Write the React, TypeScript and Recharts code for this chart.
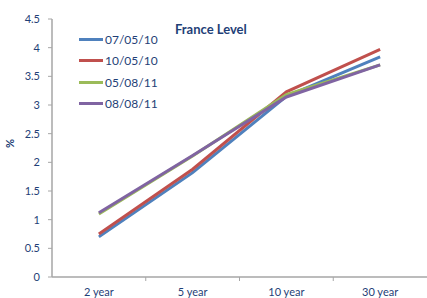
import React from 'react';
import { LineChart, Line, XAxis, YAxis } from 'recharts';

const tenors = ['2 year', '5 year', '10 year', '30 year'];
const may0710 = [0.7, 1.82, 3.15, 3.84];
const may1010 = [0.75, 1.88, 3.23, 3.97];
const aug0511 = [1.1, 2.11, 3.18, 3.7];
const aug0811 = [1.12, 2.12, 3.14, 3.7];
const yTicks = [0, 0.5, 1, 1.5, 2, 2.5, 3, 3.5, 4, 4.5];

const series = [
  { key: 'a', name: '07/05/10', values: may0710, color: '#4F81BD' },
  { key: 'b', name: '10/05/10', values: may1010, color: '#C0504D' },
  { key: 'c', name: '05/08/11', values: aug0511, color: '#9BBB59' },
  { key: 'd', name: '08/08/11', values: aug0811, color: '#8064A2' },
];

const data = tenors.map((t, i) => {
  const row: Record<string, string | number> = { tenor: t };
  series.forEach((s) => { row[s.key] = s.values[i]; });
  return row;
});

const W = 427;
const H = 298;
const LEFT = 52;
const STEP = (W - LEFT) / tenors.length;
const TEXT = '#1F3F77';
const AXIS = '#A6A6A6';
const FONT = 'Lato, "Liberation Sans", sans-serif';

function XTick(props: any) {
  const { x, payload, index } = props;
  return (
    <g>
      {index < tenors.length - 1 && (
        <line x1={x + STEP / 2} x2={x + STEP / 2} y1={277} y2={281} stroke={AXIS} />
      )}
      <text x={x} y={296} textAnchor="middle" fill={TEXT} fontSize={11} fontFamily={FONT}>
        {payload.value}
      </text>
    </g>
  );
}

export default function App() {
  return (
    <div style={{ position: 'absolute', left: 0, top: 0, width: W, height: H, background: '#fff' }}>
      <div style={{ position: 'absolute', left: 175, top: 21, color: TEXT, fontFamily: FONT, fontWeight: 'bold', fontSize: 13 }}>
        France Level
      </div>
      <div style={{ position: 'absolute', left: 79, top: 29, zIndex: 2 }}>
        {series.map((s) => (
          <div key={s.key} style={{ display: 'flex', alignItems: 'center', height: 21.3 }}>
            <div style={{ width: 24, height: 3, background: s.color, marginRight: 2 }} />
            <span style={{ color: TEXT, fontSize: 12, fontFamily: FONT }}>{s.name}</span>
          </div>
        ))}
      </div>
      <LineChart width={W} height={H} data={data} margin={{ top: 19, right: 0, bottom: 0, left: 0 }}>
        <XAxis
          dataKey="tenor"
          height={21}
          padding={{ left: STEP / 2, right: STEP / 2 }}
          axisLine={{ stroke: AXIS, strokeWidth: 1.5 }}
          tickLine={false}
          tick={<XTick />}
          interval={0}
        />
        <YAxis
          width={LEFT}
          domain={[0, 4.5]}
          ticks={yTicks}
          interval={0}
          axisLine={{ stroke: AXIS, strokeWidth: 1.5 }}
          tickLine={{ stroke: AXIS }}
          tickSize={4}
          tickMargin={8}
          tick={{ fill: TEXT, fontSize: 11, fontFamily: FONT }}
          label={{ value: '%', angle: -90, position: 'insideLeft', offset: 10, fill: TEXT, fontSize: 11, fontFamily: FONT, fontWeight: 'bold' }}
        />
        {series.map((s) => (
          <Line
            key={s.key}
            type="linear"
            dataKey={s.key}
            name={s.name}
            stroke={s.color}
            strokeWidth={3}
            dot={false}
            isAnimationActive={false}
          />
        ))}
      </LineChart>
    </div>
  );
}
